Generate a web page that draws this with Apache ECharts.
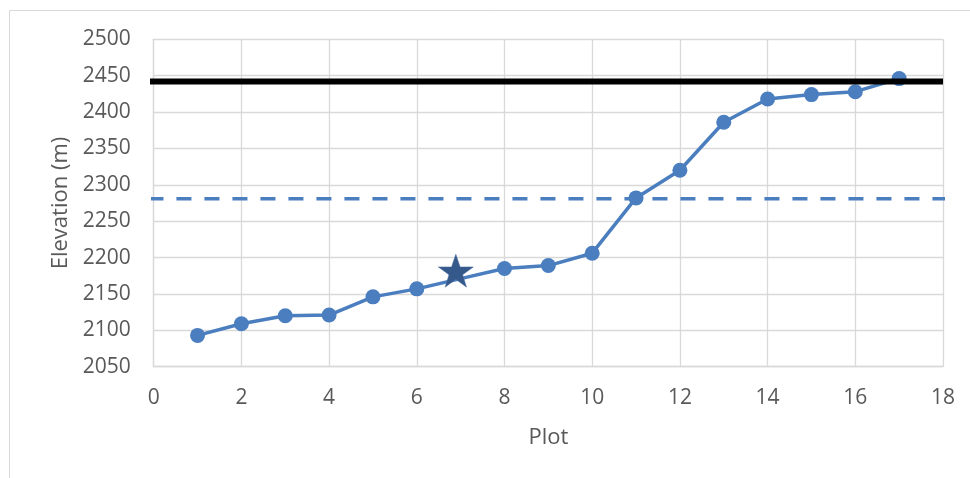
<!DOCTYPE html>
<html>
<head>
<meta charset="utf-8">
<script src="https://cdn.jsdelivr.net/npm/echarts@6/dist/echarts.min.js"></script>
<style>html,body{margin:0;padding:0;background:#fff}#c{width:970px;height:478px}</style>
</head>
<body>
<div id="c"></div>
<script>
var plots = [1,2,3,4,5,6,7,8,9,10,11,12,13,14,15,16,17];
var elevations = [2093,2109,2120,2121,2146,2157,2171,2185,2189,2206,2282,2320,2386,2418,2424,2428,2446];
var starPoint = [6.89, 2182];
var treeline = 2442;
var dashedLevel = 2281;
var lineStart = -0.12;
var lineEnd = 18;
var dashedEnd = 18.05;

var chart = echarts.init(document.getElementById('c'));
var mainData = plots.map(function(p,i){
  var d = {value:[p, elevations[i]]};
  if (p === 7) d.symbol = 'none';
  return d;
});
var starPath = 'path://M50,0 L61.8,35.1 L98.1,35.1 L68.8,56.7 L79.4,90.9 L50,69.4 L20.6,90.9 L31.2,56.7 L1.9,35.1 L38.2,35.1 Z';
var font = "'Open Sans', 'Noto Sans', sans-serif";
chart.setOption({
  animation:false,
  backgroundColor:'#fff',
  graphic:[{type:'rect', shape:{x:9.5,y:10.5,width:975,height:480}, style:{fill:null, stroke:'#d9d9d9', lineWidth:1}, silent:true, z:-1}],
  grid:{left:153.7, right:27, top:39.3, bottom:111.3},
  xAxis:{type:'value', min:0, max:18, interval:2,
    name:'Plot', nameLocation:'middle', nameGap:60,
    nameTextStyle:{color:'#595959', fontSize:22, fontFamily:font},
    axisLine:{show:true, lineStyle:{color:'#d9d9d9', width:1.3}},
    axisTick:{show:false},
    axisLabel:{color:'#595959', fontSize:21, fontFamily:font, margin:21},
    splitLine:{show:true, lineStyle:{color:'#d9d9d9', width:1.3}}
  },
  yAxis:{type:'value', min:2050, max:2500, interval:50,
    name:'Elevation (m)', nameLocation:'middle', nameGap:82, nameRotate:90,
    nameTextStyle:{color:'#595959', fontSize:22, fontFamily:font},
    axisLine:{show:true, lineStyle:{color:'#d9d9d9', width:1.3}},
    axisTick:{show:false},
    axisLabel:{color:'#595959', fontSize:21, fontFamily:font, margin:23, formatter:function(v){return String(v);}},
    splitLine:{show:true, lineStyle:{color:'#d9d9d9', width:1.3}}
  },
  series:[
    {type:'line', data:[[lineStart,dashedLevel],[dashedEnd,dashedLevel]], clip:false, symbol:'none',
      lineStyle:{color:'#4A7EBF', width:3.5, type:[15,13]}, z:2},
    {type:'line', data:mainData, symbol:'circle', symbolSize:15,
      itemStyle:{color:'#4A7EBF'}, lineStyle:{color:'#4A7EBF', width:3.5}, z:3},
    {type:'line', data:[[lineStart,treeline],[lineEnd,treeline]], clip:false, symbol:'none',
      lineStyle:{color:'#000', width:6}, z:4},
    {type:'scatter', data:[starPoint], symbol:starPath, symbolSize:[35,33],
      itemStyle:{color:'#36598C', opacity:1, borderColor:'#4A6FA0', borderWidth:0.5}, z:5}
  ]
});
</script>
</body>
</html>
